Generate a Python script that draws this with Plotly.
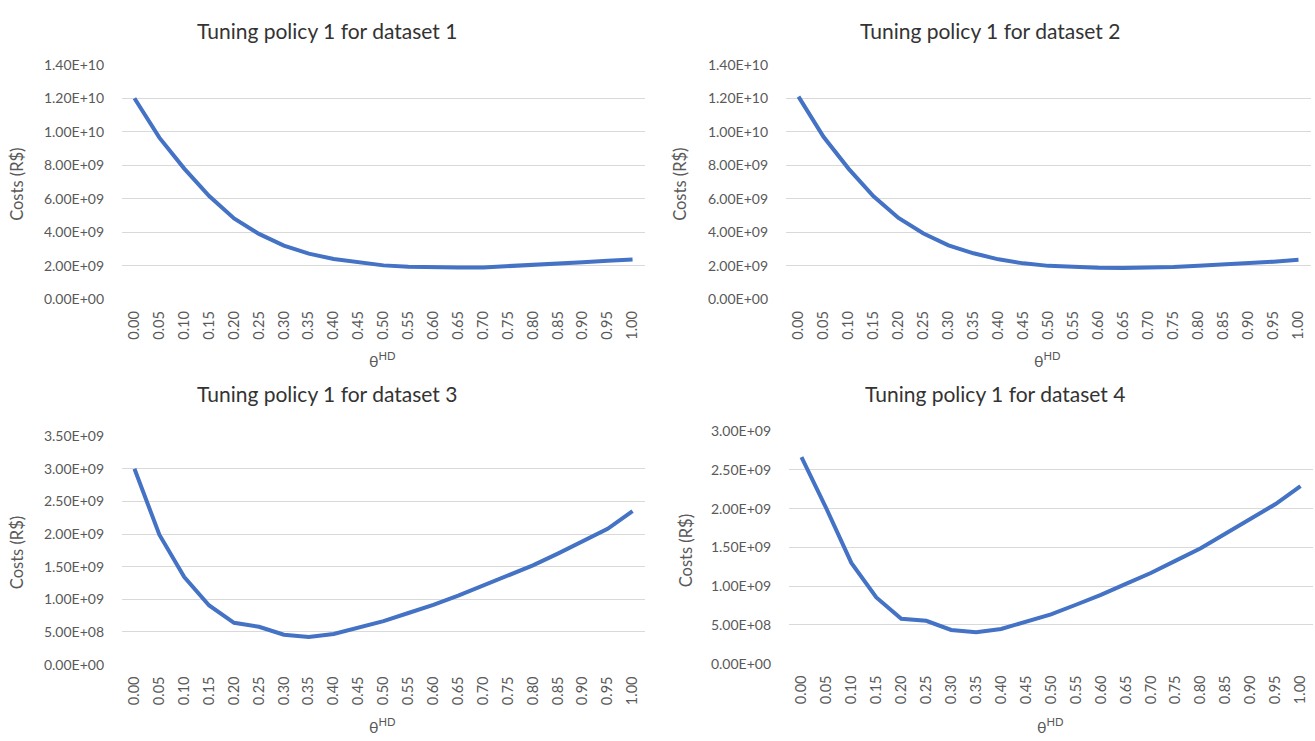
import plotly.graph_objects as go

W, H = 1315, 741

theta_labels = ["0.00", "0.05", "0.10", "0.15", "0.20", "0.25", "0.30", "0.35", "0.40", "0.45",
                "0.50", "0.55", "0.60", "0.65", "0.70", "0.75", "0.80", "0.85", "0.90", "0.95", "1.00"]

cost_d1 = [1.20e10, 9.65e9, 7.80e9, 6.16e9, 4.82e9, 3.90e9, 3.20e9, 2.72e9, 2.40e9, 2.18e9,
           2.02e9, 1.94e9, 1.89e9, 1.89e9, 1.90e9, 1.96e9, 2.04e9, 2.12e9, 2.20e9, 2.29e9, 2.37e9]
cost_d2 = [1.21e10, 9.70e9, 7.80e9, 6.15e9, 4.85e9, 3.92e9, 3.22e9, 2.74e9, 2.38e9, 2.14e9,
           1.99e9, 1.92e9, 1.88e9, 1.87e9, 1.88e9, 1.92e9, 1.99e9, 2.06e9, 2.14e9, 2.24e9, 2.35e9]
cost_d3 = [3.00e9, 1.99e9, 1.34e9, 0.905e9, 0.64e9, 0.58e9, 0.457e9, 0.423e9, 0.47e9, 0.57e9,
           0.666e9, 0.79e9, 0.914e9, 1.055e9, 1.21e9, 1.36e9, 1.52e9, 1.70e9, 1.89e9, 2.08e9, 2.35e9]
cost_d4 = [2.665e9, 2.00e9, 1.30e9, 0.854e9, 0.58e9, 0.553e9, 0.435e9, 0.406e9, 0.448e9, 0.544e9,
           0.636e9, 0.76e9, 0.887e9, 1.03e9, 1.17e9, 1.33e9, 1.49e9, 1.68e9, 1.87e9, 2.06e9, 2.29e9]

titles = ["Tuning policy 1 for dataset 1", "Tuning policy 1 for dataset 2",
          "Tuning policy 1 for dataset 3", "Tuning policy 1 for dataset 4"]
y_ticks = [
    [0, 2e9, 4e9, 6e9, 8e9, 1e10, 1.2e10, 1.4e10],
    [0, 2e9, 4e9, 6e9, 8e9, 1e10, 1.2e10, 1.4e10],
    [0, 5e8, 1e9, 1.5e9, 2e9, 2.5e9, 3e9, 3.5e9],
    [0, 5e8, 1e9, 1.5e9, 2e9, 2.5e9, 3e9],
]
series = [cost_d1, cost_d2, cost_d3, cost_d4]

# plot-area boxes in pixels: (left, right, top, bottom)
boxes = [
    (122, 645, 57, 297),
    (786, 1311, 57, 297),
    (122, 645, 437, 671),
    (789, 1313, 432, 670),
]
# chart-area horizontal centres (for the titles) and title rows, in pixels
title_cx = [327, 990, 327, 995]
title_y = [22, 22, 394, 394]
xtitle_y = [359, 359, 733, 733]
ytitle_x = [17, 680, 17, 686]

FONT = "Lato"
TXT = "#595959"
LINE = "#4472C4"
GRID = "#D9D9D9"

def px_x(x):
    return x / W

def px_y(y):
    return 1 - y / H

fig = go.Figure()
annotations = []
layout_axes = {}
n = len(theta_labels)
for i, (vals, box) in enumerate(zip(series, boxes)):
    k = "" if i == 0 else str(i + 1)
    left, right, top, bottom = box
    fig.add_trace(go.Scatter(
        x=list(range(n)), y=vals, mode="lines",
        line=dict(color=LINE, width=4),
        xaxis="x" + k, yaxis="y" + k, showlegend=False, hoverinfo="skip",
    ))
    ticks = y_ticks[i]
    layout_axes["xaxis" + k] = dict(
        domain=[px_x(left), px_x(right)], anchor="y" + k,
        range=[-0.5, n - 0.5], tickmode="array", tickvals=list(range(n)),
        ticktext=theta_labels, tickangle=-90, showgrid=False, zeroline=False,
        showline=False, ticks="", ticklabelstandoff=8,
        tickfont=dict(family=FONT, size=14.5, color=TXT),
    )
    layout_axes["yaxis" + k] = dict(
        domain=[px_y(bottom), px_y(top)], anchor="x" + k,
        range=[0, ticks[-1] * 1.0005], tickmode="array", tickvals=ticks,
        ticktext=[f"{v:.2E}" for v in ticks], showgrid=True, gridcolor=GRID,
        gridwidth=1, zeroline=False, showline=False, ticks="", ticklabelstandoff=17,
        tickfont=dict(family=FONT, size=14, color=TXT),
    )
    cx = (left + right) / 2
    annotations.append(dict(
        text=titles[i], x=px_x(title_cx[i]), y=px_y(title_y[i]), xref="paper", yref="paper",
        showarrow=False, xanchor="center", yanchor="middle",
        font=dict(family=FONT, size=21, color="#333333"),
    ))
    annotations.append(dict(
        text="θ<sup>HD</sup>", x=px_x(cx - 1), y=px_y(xtitle_y[i]), xref="paper", yref="paper",
        showarrow=False, xanchor="center", yanchor="middle",
        font=dict(family=FONT, size=16, color=TXT),
    ))
    annotations.append(dict(
        text="Costs (R$)", x=px_x(ytitle_x[i]), y=px_y((top + bottom) / 2 + 3),
        xref="paper", yref="paper", showarrow=False, textangle=-90,
        xanchor="center", yanchor="middle",
        font=dict(family=FONT, size=16.5, color=TXT),
    ))

fig.update_layout(
    width=W, height=H, margin=dict(l=0, r=0, t=0, b=0),
    paper_bgcolor="white", plot_bgcolor="white",
    annotations=annotations, **layout_axes,
)
fig.write_html("out.html")
